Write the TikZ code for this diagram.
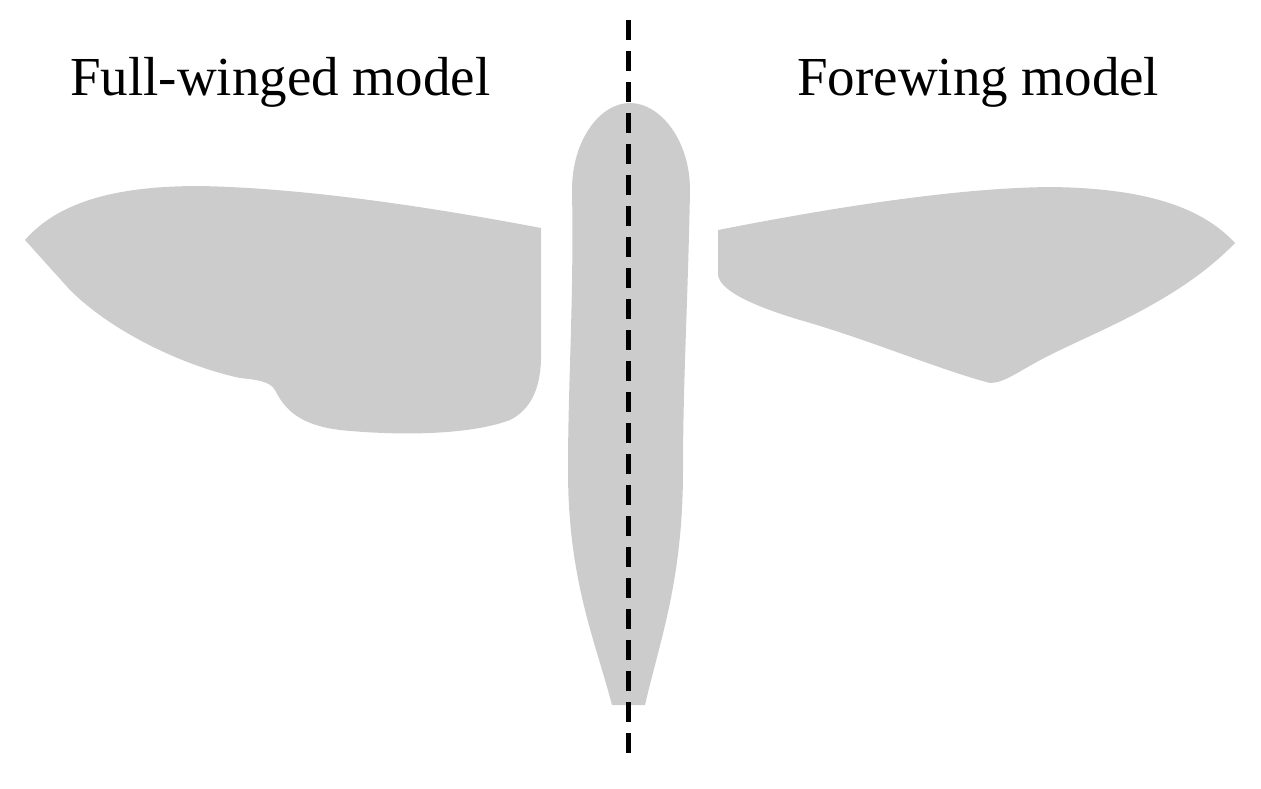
\documentclass[tikz,border=0pt]{standalone}
\usepackage{fontspec}
\setmainfont{Liberation Serif}
\begin{document}
\begin{tikzpicture}[x=1pt,y=-1pt,
  part/.style={fill=black!20,draw=none},
  lbl/.style={font=\fontsize{55}{66}\selectfont,inner sep=0pt,anchor=base west}]
\useasboundingbox (0,0) rectangle (1261,788);
% body
\fill[part] (612,705) .. controls (595,640) and (568,580) .. (568,470)
  .. controls (568,380) and (574,300) .. (572,190)
  .. controls (572,140) and (600,103) .. (630,103)
  .. controls (660,103) and (690,140) .. (690,190)
  .. controls (688,300) and (683,380) .. (683,470)
  .. controls (683,580) and (660,640) .. (645,705) -- cycle;
% left wing
\fill[part] (25,240) .. controls (60,200) and (120,186) .. (200,186)
  .. controls (300,188) and (420,205) .. (541,228)
  -- (541,360) .. controls (540,390) and (530,410) .. (510,420)
  .. controls (470,435) and (400,436) .. (340,430)
  .. controls (300,425) and (285,410) .. (275,390)
  .. controls (270,382) and (260,380) .. (240,378)
  .. controls (180,365) and (110,330) .. (70,290) -- cycle;
% right wing
\fill[part] (718,230) .. controls (820,210) and (950,188) .. (1050,187)
  .. controls (1140,188) and (1200,205) .. (1235,243)
  .. controls (1180,300) and (1100,330) .. (1050,355)
  .. controls (1020,370) and (1005,383) .. (990,383)
  .. controls (940,370) and (870,340) .. (800,320)
  .. controls (750,305) and (720,290) .. (718,275) -- cycle;
% dashed axis
\coordinate (top) at (628,20);
\coordinate (bot) at (628,760);
\draw[line width=5pt,dash pattern=on 20pt off 11pt] (top) -- (bot);
\node[lbl] (l) at (70,95) {Full-winged model};
\node[lbl] (r) at (797,95) {Forewing model};
\end{tikzpicture}
\end{document}
